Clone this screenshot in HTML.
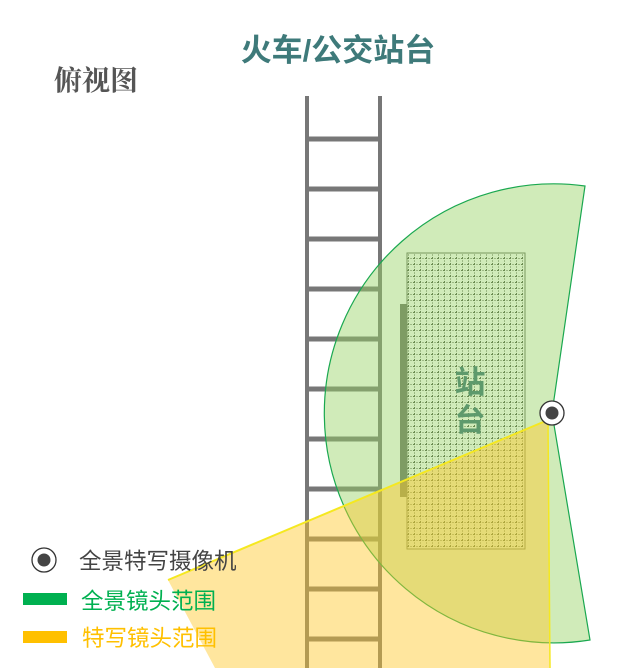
<!DOCTYPE html>
<html><head><meta charset="utf-8"><style>
body{margin:0;background:#fff;width:639px;height:668px;overflow:hidden}
svg{display:block}
</style></head><body>
<svg width="639" height="668" viewBox="0 0 639 668" xmlns="http://www.w3.org/2000/svg">
<defs>
<pattern id="g" width="6" height="6" patternUnits="userSpaceOnUse">
<path d="M0 0.5H6M0.5 0V6" stroke="#6a8a50" stroke-width="1" stroke-dasharray="1 1.5"/>
</pattern>
</defs>
<text x="338" y="61" text-anchor="middle" font-family="Liberation Sans,Noto Sans CJK SC,sans-serif" font-weight="bold" font-size="31" fill="#3e7a7a">火车/公交站台</text>
<text x="54" y="90" font-family="Noto Serif CJK SC,serif" font-weight="bold" font-size="28" fill="#555">俯视图</text>
<g stroke="#777" stroke-width="4">
<line x1="307" y1="96" x2="307" y2="668"/><line x1="380" y1="96" x2="380" y2="668"/>
</g>
<g stroke="#777" stroke-width="5">
<line x1="307" y1="139" x2="380" y2="139"/><line x1="307" y1="189" x2="380" y2="189"/>
<line x1="307" y1="239" x2="380" y2="239"/><line x1="307" y1="289" x2="380" y2="289"/>
<line x1="307" y1="339" x2="380" y2="339"/><line x1="307" y1="389" x2="380" y2="389"/>
<line x1="307" y1="439" x2="380" y2="439"/><line x1="307" y1="489" x2="380" y2="489"/>
<line x1="307" y1="539" x2="380" y2="539"/><line x1="307" y1="589" x2="380" y2="589"/>
<line x1="307" y1="639" x2="380" y2="639"/>
</g>
<path d="M552 413 L585 186 A229.5 229.5 0 1 0 590 640 Z" fill="rgba(150,210,100,0.45)" stroke="#1aa850" stroke-width="1.2"/>
<rect x="407" y="253" width="118" height="296" fill="url(#g)" stroke="#7a9a60" stroke-width="1"/>
<rect x="400" y="304" width="7" height="193" fill="#7e9c64"/>
<text x="470" y="393" text-anchor="middle" font-family="Noto Sans CJK SC,sans-serif" font-weight="bold" font-size="31" fill="#5e9a6c">站</text>
<text x="470" y="431" text-anchor="middle" font-family="Noto Sans CJK SC,sans-serif" font-weight="bold" font-size="31" fill="#5e9a6c">台</text>
<path d="M548 420 L168 580 L215 668 L550 668 Z" fill="rgba(255,200,40,0.45)"/>
<line x1="548" y1="420" x2="168" y2="580" stroke="#f5e820" stroke-width="2"/>
<line x1="548" y1="420" x2="550" y2="668" stroke="#f5e820" stroke-width="1.5"/>
<circle cx="552" cy="413" r="12" fill="#fff" stroke="#333" stroke-width="1.3"/>
<circle cx="552" cy="413" r="6.5" fill="#444"/>
<circle cx="44" cy="560" r="12" fill="#fff" stroke="#333" stroke-width="1.3"/>
<circle cx="44" cy="560" r="6.5" fill="#444"/>
<text x="79" y="569" font-family="Noto Sans CJK SC,sans-serif" font-size="22.5" fill="#444">全景特写摄像机</text>
<rect x="23" y="593" width="44" height="12" fill="#00b050"/>
<text x="81" y="609" font-family="Noto Sans CJK SC,sans-serif" font-size="22.5" fill="#00b050">全景镜头范围</text>
<rect x="23" y="631" width="44" height="12" fill="#ffc000"/>
<text x="82" y="646" font-family="Noto Sans CJK SC,sans-serif" font-size="22.5" fill="#ffc000">特写镜头范围</text>
</svg>
</body></html>
